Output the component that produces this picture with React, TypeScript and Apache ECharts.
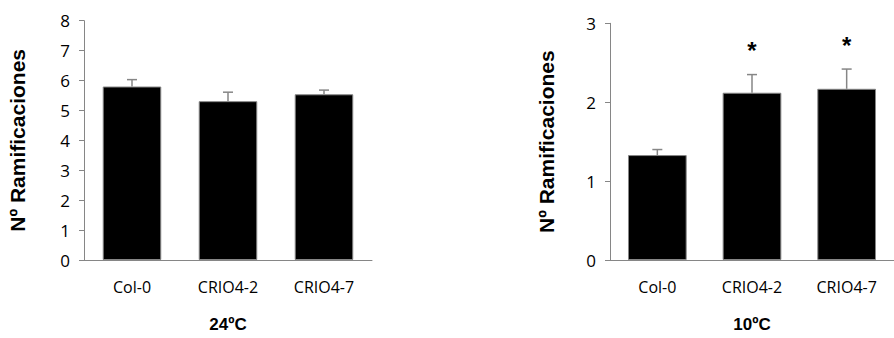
import React, { useEffect, useRef } from "react";
import * as echarts from "echarts";

const categories = ["Col-0", "CRIO4-2", "CRIO4-7"];
const mean24 = [5.8, 5.31, 5.54];
const err24 = [0.23, 0.3, 0.14];
const mean10 = [1.33, 2.12, 2.17];
const err10 = [0.07, 0.23, 0.25];
const signif10 = ["", "*", "*"];
const ticks24 = { min: 0, max: 8, interval: 1 };
const ticks10 = { min: 0, max: 3, interval: 1 };
const title24 = "24ºC";
const title10 = "10ºC";
const yName = "Nº Ramificaciones";

const GRAY = "#868686";
const FONT = "'Open Sans', 'Liberation Sans', sans-serif";
const BOLD = "'Liberation Sans', Arial, sans-serif";

function errorSeries(idx: number, means: number[], errs: number[], marks: string[] | null) {
  return {
    type: "custom",
    xAxisIndex: idx,
    yAxisIndex: idx,
    z: 5,
    data: means.map((m, i) => [i, m, errs[i]]),
    renderItem: (params: any, api: any) => {
      const i = api.value(0);
      const m = api.value(1);
      const e = api.value(2);
      const mark = marks ? marks[i] : "";
      const p0 = api.coord([i, m]);
      const p1 = api.coord([i, m + e]);
      const children: any[] = [
        {
          type: "line",
          shape: { x1: p0[0], y1: p0[1], x2: p1[0], y2: p1[1] },
          style: { stroke: GRAY, lineWidth: 1.5 },
        },
        {
          type: "line",
          shape: { x1: p1[0] - 5, y1: p1[1], x2: p1[0] + 5, y2: p1[1] },
          style: { stroke: GRAY, lineWidth: 1.5 },
        },
      ];
      if (mark) {
        children.push({
          type: "text",
          x: p1[0],
          y: p1[1] - 24,
          style: {
            text: mark,
            fill: "#000",
            font: "bold 24px 'Liberation Sans', Arial, sans-serif",
            textAlign: "center",
            textVerticalAlign: "middle",
          },
        });
      }
      return { type: "group", children };
    },
  };
}

export default function App() {
  const ref = useRef<HTMLDivElement>(null);
  useEffect(() => {
    if (!ref.current) return;
    const chart = echarts.init(ref.current, null, { renderer: "svg" });
    const xAxisBase = {
      type: "category",
      data: categories,
      axisLine: { lineStyle: { color: GRAY, width: 1 } },
      axisTick: { show: false },
      axisLabel: { color: "#000", fontSize: 16, fontFamily: FONT, margin: 19 },
      nameLocation: "middle",
      nameGap: 56,
      nameTextStyle: { color: "#000", fontSize: 17, fontWeight: "bold", fontFamily: BOLD },
    };
    const yAxisBase = {
      type: "value",
      axisLine: { show: true, lineStyle: { color: GRAY, width: 1 } },
      axisTick: { show: true, length: 5, lineStyle: { color: GRAY } },
      splitLine: { show: false },
      axisLabel: { color: "#000", fontSize: 17, fontFamily: FONT, margin: 14 },
      name: yName,
      nameLocation: "middle",
      nameRotate: 90,
      nameTextStyle: { color: "#000", fontSize: 21, fontWeight: "bold", fontFamily: BOLD },
    };
    chart.setOption({
      animation: false,
      backgroundColor: "#fff",
      grid: [
        { left: 84, width: 288, top: 20.7, height: 247.3 },
        { left: 610, width: 294, top: 23.3, height: 246.7 },
      ],
      xAxis: [
        { ...xAxisBase, gridIndex: 0, name: title24 },
        { ...xAxisBase, gridIndex: 1, name: title10 },
      ],
      yAxis: [
        { ...yAxisBase, gridIndex: 0, ...ticks24, nameGap: 56 },
        { ...yAxisBase, gridIndex: 1, ...ticks10, nameGap: 53 },
      ],
      series: [
        {
          type: "bar",
          xAxisIndex: 0,
          yAxisIndex: 0,
          data: mean24,
          barWidth: "61%",
          itemStyle: { color: "#000", borderColor: GRAY, borderWidth: 1 },
        },
        {
          type: "bar",
          xAxisIndex: 1,
          yAxisIndex: 1,
          data: mean10,
          barWidth: "62%",
          itemStyle: { color: "#000", borderColor: GRAY, borderWidth: 1 },
        },
        errorSeries(0, mean24, err24, null),
        errorSeries(1, mean10, err10, signif10),
      ],
    });
    return () => chart.dispose();
  }, []);
  return (
    <div
      ref={ref}
      style={{ position: "absolute", left: 0, top: 0, width: 894, height: 338 }}
    />
  );
}
